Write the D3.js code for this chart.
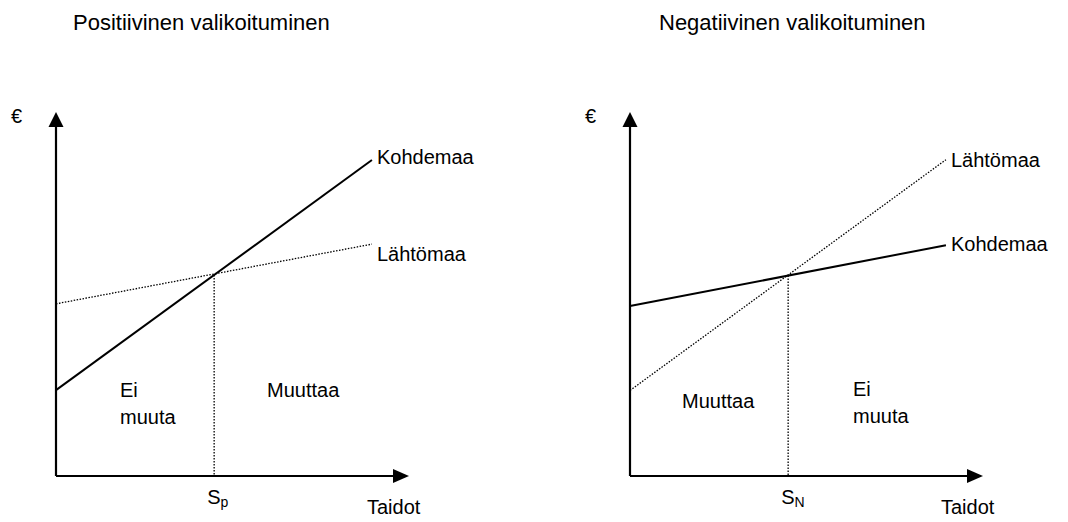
<!DOCTYPE html>
<html>
<head>
<meta charset="utf-8">
<script src="https://cdn.jsdelivr.net/npm/d3@7"></script>
<style>
  body { margin: 0; background: #fff; }
  text { font-family: "Liberation Sans", Arial, sans-serif; fill: #000; }
</style>
</head>
<body>
<svg width="1068" height="522"></svg>
<script>
// panel titles and labels
var titles    = ["Positiivinen valikoituminen", "Negatiivinen valikoituminen"];
var subs      = ["p", "N"];
var skill     = [0, 89.5];               // x of line start / end (skill units)
var kohdemaa  = [[23.6, 86.8], [46.7, 63.4]];   // destination country wage
var lahtomaa  = [[47.3, 63.7], [23.5, 86.9]];   // origin country wage
var threshold = [44.8, 44.8];            // S_p, S_N
var lowSide   = [["Ei", "muuta"], ["Muuttaa"]];
var highSide  = [["Muuttaa"], ["Ei", "muuta"]];

var svg = d3.select("svg");

var panelX   = [56, 630],
    titleX   = [73, 659],
    lowX     = [120, 682],
    highX    = [267, 853],
    lowY     = [397, 408],
    highY    = [397, 396],
    kLabelDy = [4, 6],
    lLabelDy = [17, 7];

titles.forEach(function(title, i) {
  var x0 = panelX[i];
  var x = d3.scaleLinear().domain([0, 100]).range([x0, x0 + 353]);
  var y = d3.scaleLinear().domain([0, 100]).range([476, 112]);
  var g = svg.append("g");

  var line = d3.line()
      .x(function(d) { return x(d[0]); })
      .y(function(d) { return y(d[1]); });

  g.append("text").attr("x", titleX[i]).attr("y", 30)
    .attr("font-size", 22).text(title);

  // axes
  g.append("line").attr("x1", x(0)).attr("y1", y(0)).attr("x2", x(0)).attr("y2", y(97))
    .attr("stroke", "#000").attr("stroke-width", 2.2);
  g.append("line").attr("x1", x(0)).attr("y1", y(0)).attr("x2", x(97)).attr("y2", y(0))
    .attr("stroke", "#000").attr("stroke-width", 2.2);
  g.append("path")
    .attr("d", "M" + x(0) + "," + y(100) + "l-7.5,15h15z");
  g.append("path")
    .attr("d", "M" + x(100) + "," + y(0) + "l-16,-7v14z");

  g.append("text").attr("x", x0 - 45).attr("y", 123).attr("font-size", 20).text("€");

  // dotted origin line
  g.append("path")
    .attr("d", line([[skill[0], lahtomaa[i][0]], [skill[1], lahtomaa[i][1]]]))
    .attr("fill", "none").attr("stroke", "#000").attr("stroke-width", 1.3)
    .attr("stroke-dasharray", "1.5,1.5");

  // solid destination line
  g.append("path")
    .attr("d", line([[skill[0], kohdemaa[i][0]], [skill[1], kohdemaa[i][1]]]))
    .attr("fill", "none").attr("stroke", "#000").attr("stroke-width", 2);

  // threshold
  var k = kohdemaa[i], l = lahtomaa[i];
  var yi = k[0] + (k[1] - k[0]) * threshold[i] / skill[1];
  g.append("line")
    .attr("x1", x(threshold[i])).attr("x2", x(threshold[i]))
    .attr("y1", y(yi)).attr("y2", y(0))
    .attr("stroke", "#000").attr("stroke-width", 1.3).attr("stroke-dasharray", "1.5,1.5");

  var s = g.append("text").attr("x", x(threshold[i]) - 7).attr("y", 504).attr("font-size", 20);
  s.append("tspan").text("S");
  s.append("tspan").attr("font-size", 14).attr("dy", 3).text(subs[i]);

  g.append("text").attr("x", x0 + 311).attr("y", 514).attr("font-size", 20).text("Taidot");

  // line labels
  g.append("text").attr("x", x(skill[1]) + 5).attr("y", y(k[1]) + kLabelDy[i])
    .attr("font-size", 20).text("Kohdemaa");
  g.append("text").attr("x", x(skill[1]) + 5).attr("y", y(l[1]) + lLabelDy[i])
    .attr("font-size", 20).text("Lähtömaa");

  // region labels
  g.append("text").attr("x", lowX[i]).attr("y", lowY[i]).attr("font-size", 20)
    .selectAll("tspan").data(lowSide[i]).enter().append("tspan")
      .attr("x", lowX[i]).attr("dy", function(d, j) { return j ? 27 : 0; })
      .text(function(d) { return d; });
  g.append("text").attr("x", highX[i]).attr("y", highY[i]).attr("font-size", 20)
    .selectAll("tspan").data(highSide[i]).enter().append("tspan")
      .attr("x", highX[i]).attr("dy", function(d, j) { return j ? 27 : 0; })
      .text(function(d) { return d; });
});
</script>
</body>
</html>
